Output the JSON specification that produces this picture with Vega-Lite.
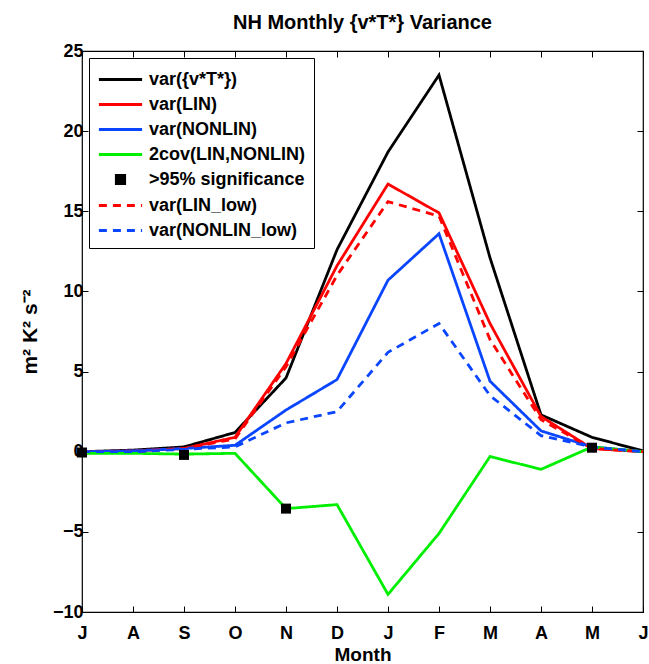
{
  "$schema": "https://vega.github.io/schema/vega-lite/v6.json",
  "width": 561,
  "height": 561,
  "autosize": {"type": "none"},
  "padding": {"left": 82, "top": 51, "right": 6, "bottom": 52},
  "config": {
    "font": "Liberation Sans",
    "view": {"stroke": "black", "strokeWidth": 1.2},
    "axis": {"grid": false, "domain": false, "tickColor": "black", "tickSize": -6, "tickWidth": 1,
             "labelFont": "Liberation Sans", "labelFontSize": 18, "labelFontWeight": "bold", "labelColor": "black",
             "titleFont": "Liberation Sans", "titleFontSize": 18, "titleFontWeight": "bold", "titleColor": "black"}
  },
  "title": {"text": "NH Monthly {v*T*} Variance", "font": "Liberation Sans", "fontSize": 20, "fontWeight": "bold", "color": "black", "offset": 9},
  "data": {"values": [
    {"s": "var({v*T*})", "m": 0, "v": 0.0},
    {"s": "var({v*T*})", "m": 1, "v": 0.1},
    {"s": "var({v*T*})", "m": 2, "v": 0.3},
    {"s": "var({v*T*})", "m": 3, "v": 1.2},
    {"s": "var({v*T*})", "m": 4, "v": 4.6},
    {"s": "var({v*T*})", "m": 5, "v": 12.6},
    {"s": "var({v*T*})", "m": 6, "v": 18.7},
    {"s": "var({v*T*})", "m": 7, "v": 23.5},
    {"s": "var({v*T*})", "m": 8, "v": 12.1},
    {"s": "var({v*T*})", "m": 9, "v": 2.3},
    {"s": "var({v*T*})", "m": 10, "v": 0.9},
    {"s": "var({v*T*})", "m": 11, "v": 0.05},
    {"s": "var(LIN)", "m": 0, "v": 0.0},
    {"s": "var(LIN)", "m": 1, "v": 0.05},
    {"s": "var(LIN)", "m": 2, "v": 0.2},
    {"s": "var(LIN)", "m": 3, "v": 0.9},
    {"s": "var(LIN)", "m": 4, "v": 5.5},
    {"s": "var(LIN)", "m": 5, "v": 11.6},
    {"s": "var(LIN)", "m": 6, "v": 16.7},
    {"s": "var(LIN)", "m": 7, "v": 14.9},
    {"s": "var(LIN)", "m": 8, "v": 8.0},
    {"s": "var(LIN)", "m": 9, "v": 2.2},
    {"s": "var(LIN)", "m": 10, "v": 0.2},
    {"s": "var(LIN)", "m": 11, "v": 0.0},
    {"s": "var(NONLIN)", "m": 0, "v": 0.0},
    {"s": "var(NONLIN)", "m": 1, "v": 0.05},
    {"s": "var(NONLIN)", "m": 2, "v": 0.2},
    {"s": "var(NONLIN)", "m": 3, "v": 0.4},
    {"s": "var(NONLIN)", "m": 4, "v": 2.6},
    {"s": "var(NONLIN)", "m": 5, "v": 4.5},
    {"s": "var(NONLIN)", "m": 6, "v": 10.7},
    {"s": "var(NONLIN)", "m": 7, "v": 13.6},
    {"s": "var(NONLIN)", "m": 8, "v": 4.4},
    {"s": "var(NONLIN)", "m": 9, "v": 1.3},
    {"s": "var(NONLIN)", "m": 10, "v": 0.3},
    {"s": "var(NONLIN)", "m": 11, "v": 0.0},
    {"s": "2cov(LIN,NONLIN)", "m": 0, "v": -0.1},
    {"s": "2cov(LIN,NONLIN)", "m": 1, "v": -0.1},
    {"s": "2cov(LIN,NONLIN)", "m": 2, "v": -0.15},
    {"s": "2cov(LIN,NONLIN)", "m": 3, "v": -0.1},
    {"s": "2cov(LIN,NONLIN)", "m": 4, "v": -3.55},
    {"s": "2cov(LIN,NONLIN)", "m": 5, "v": -3.3},
    {"s": "2cov(LIN,NONLIN)", "m": 6, "v": -8.9},
    {"s": "2cov(LIN,NONLIN)", "m": 7, "v": -5.1},
    {"s": "2cov(LIN,NONLIN)", "m": 8, "v": -0.3},
    {"s": "2cov(LIN,NONLIN)", "m": 9, "v": -1.1},
    {"s": "2cov(LIN,NONLIN)", "m": 10, "v": 0.3},
    {"s": "2cov(LIN,NONLIN)", "m": 11, "v": 0.0},
    {"s": "var(LIN_low)", "m": 0, "v": 0.0},
    {"s": "var(LIN_low)", "m": 1, "v": 0.0},
    {"s": "var(LIN_low)", "m": 2, "v": 0.2},
    {"s": "var(LIN_low)", "m": 3, "v": 0.8},
    {"s": "var(LIN_low)", "m": 4, "v": 5.3},
    {"s": "var(LIN_low)", "m": 5, "v": 11.0},
    {"s": "var(LIN_low)", "m": 6, "v": 15.6},
    {"s": "var(LIN_low)", "m": 7, "v": 14.7},
    {"s": "var(LIN_low)", "m": 8, "v": 7.0},
    {"s": "var(LIN_low)", "m": 9, "v": 2.0},
    {"s": "var(LIN_low)", "m": 10, "v": 0.2},
    {"s": "var(LIN_low)", "m": 11, "v": 0.0},
    {"s": "var(NONLIN_low)", "m": 0, "v": 0.0},
    {"s": "var(NONLIN_low)", "m": 1, "v": 0.0},
    {"s": "var(NONLIN_low)", "m": 2, "v": 0.15},
    {"s": "var(NONLIN_low)", "m": 3, "v": 0.3},
    {"s": "var(NONLIN_low)", "m": 4, "v": 1.8},
    {"s": "var(NONLIN_low)", "m": 5, "v": 2.5},
    {"s": "var(NONLIN_low)", "m": 6, "v": 6.2},
    {"s": "var(NONLIN_low)", "m": 7, "v": 8.0},
    {"s": "var(NONLIN_low)", "m": 8, "v": 3.5},
    {"s": "var(NONLIN_low)", "m": 9, "v": 1.0},
    {"s": "var(NONLIN_low)", "m": 10, "v": 0.3},
    {"s": "var(NONLIN_low)", "m": 11, "v": 0.0},
    {"s": ">95% significance", "m": 0, "v": -0.05},
    {"s": ">95% significance", "m": 2, "v": -0.2},
    {"s": ">95% significance", "m": 4, "v": -3.55},
    {"s": ">95% significance", "m": 10, "v": 0.25}
  ]},
  "resolve": {"axis": {"x": "independent", "y": "independent"}},
  "layer": [
    {
      "transform": [{"filter": "datum.s !== '>95% significance'"}],
      "mark": {"type": "line", "strokeWidth": 2.8},
      "encoding": {
        "x": {"field": "m", "type": "quantitative",
              "scale": {"domain": [0, 11], "nice": false, "zero": false},
              "axis": {"orient": "bottom", "values": [0,1,2,3,4,5,6,7,8,9,10,11], "title": "Month",
                       "labelExpr": "['J','A','S','O','N','D','J','F','M','A','M','J'][datum.value]",
                       "labelPadding": 18, "titlePadding": 3, "titleFontSize": 19, "labelFlush": false}},
        "y": {"field": "v", "type": "quantitative",
              "scale": {"domain": [-10, 25], "nice": false, "zero": false},
              "axis": {"orient": "left", "values": [-10,-5,0,5,10,15,20,25], "title": "m²  K²  s⁻²", "titleFontSize": 21,
                       "labelExpr": "replace(datum.label, '-', '−')", "labelPadding": 5, "titlePadding": 12, "labelFlush": false}},
        "color": {"field": "s", "type": "nominal",
                  "scale": {"domain": ["var({v*T*})", "var(LIN)", "var(NONLIN)", "2cov(LIN,NONLIN)", ">95% significance", "var(LIN_low)", "var(NONLIN_low)"],
                            "range": ["#000000", "#ff0000", "#0a46ff", "#00ee00", "#000000", "#ff0000", "#0a46ff"]},
                  "legend": {"orient": "top-left", "offset": 7, "title": null, "padding": 8,
                             "strokeColor": "black", "fillColor": "white",
                             "labelFont": "Liberation Sans", "labelFontSize": 18, "labelFontWeight": "bold", "labelColor": "black",
                             "symbolType": "M-1.8,0H1.8", "symbolSize": 576, "symbolStrokeWidth": 2.8, "symbolOffset": 10,
                             "labelOffset": 15, "rowPadding": 2,
                             "labelLimit": 300,
                             "encode": {"symbols": {"update": {
                               "shape": {"signal": "datum.value === '>95% significance' ? 'square' : 'M-1.8,0H1.8'"},
                               "size": {"signal": "datum.value === '>95% significance' ? 70 : 576"},
                               "fill": {"signal": "datum.value === '>95% significance' ? 'black' : 'transparent'"}
                             }}}}},
        "strokeDash": {"field": "s", "type": "nominal",
                       "scale": {"domain": ["var({v*T*})", "var(LIN)", "var(NONLIN)", "2cov(LIN,NONLIN)", ">95% significance", "var(LIN_low)", "var(NONLIN_low)"],
                                 "range": [[1,0],[1,0],[1,0],[1,0],[1,0],[8,6],[8,6]]}}
      }
    },
    {
      "transform": [{"filter": "datum.s === '>95% significance'"}],
      "mark": {"type": "square", "color": "black", "opacity": 1, "size": 100, "filled": true},
      "encoding": {
        "x": {"field": "m", "type": "quantitative",
              "axis": {"orient": "top", "values": [0,1,2,3,4,5,6,7,8,9,10,11], "labels": false, "title": null}},
        "y": {"field": "v", "type": "quantitative",
              "axis": {"orient": "right", "values": [-10,-5,0,5,10,15,20,25], "labels": false, "title": null}}
      }
    }
  ]
}
